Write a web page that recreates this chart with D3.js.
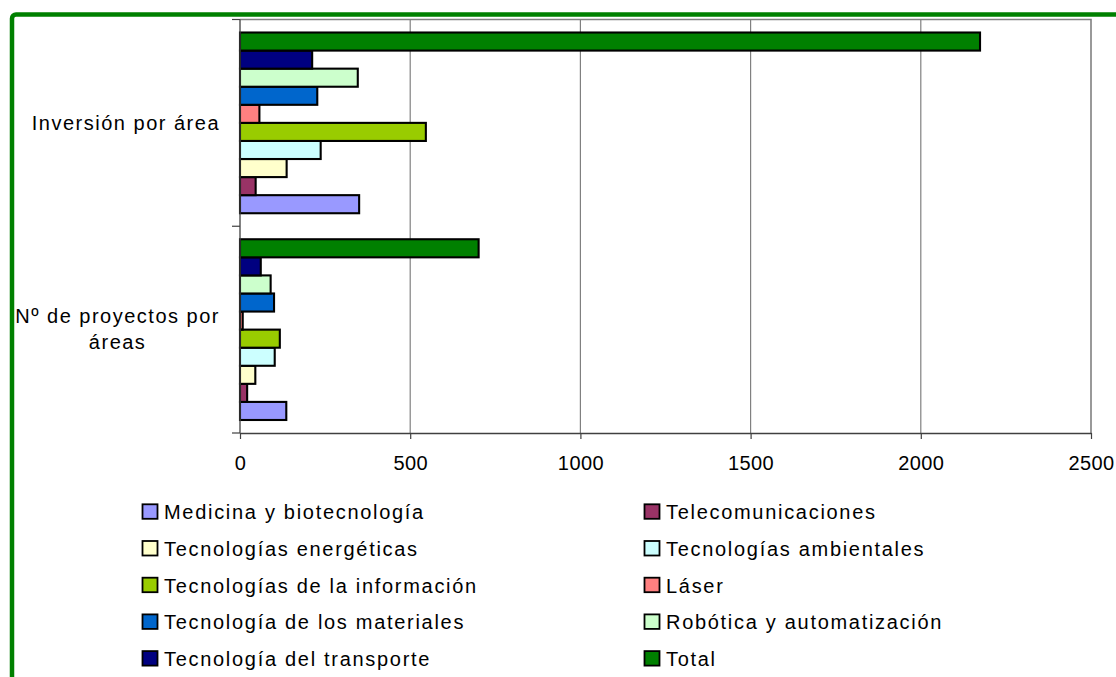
<!DOCTYPE html>
<html>
<head>
<meta charset="utf-8">
<script src="https://cdn.jsdelivr.net/npm/d3@7/dist/d3.min.js"></script>
<style>
  html, body { margin: 0; padding: 0; background: #fff; }
  svg { display: block; }
  text { font-family: "Liberation Sans", Arial, sans-serif; fill: #000; }
</style>
</head>
<body>
<svg id="chart" width="1116" height="677"></svg>
<script>
// Categories (y axis groups)
const categories = ["Inversión por área", "Nº de proyectos por áreas"];

// Series names, in legend order
const seriesNames = [
  "Medicina y biotecnología",
  "Telecomunicaciones",
  "Tecnologías energéticas",
  "Tecnologías ambientales",
  "Tecnologías de la información",
  "Láser",
  "Tecnología de los materiales",
  "Robótica y automatización",
  "Tecnología del transporte",
  "Total"
];

const seriesColors = [
  "#9999FF", "#993366", "#FFFFCC", "#CCFFFF", "#99CC00",
  "#FF8080", "#0066CC", "#CCFFCC", "#000080", "#008000"
];

// Values per series: [Inversión por área, Nº de proyectos por áreas]
const medicina     = [350, 136];
const telecom      = [46, 21];
const energeticas  = [137, 45];
const ambientales  = [237, 102];
const informacion  = [546, 117];
const laser        = [57, 8];
const materiales   = [227, 100];
const robotica     = [346, 90];
const transporte   = [212, 61];
const total        = [2174, 701];

const seriesValues = [medicina, telecom, energeticas, ambientales, informacion,
                      laser, materiales, robotica, transporte, total];

const xTicks = [0, 500, 1000, 1500, 2000, 2500];

const svg = d3.select("#chart");

// Outer frame
svg.append("rect")
  .attr("x", 12).attr("y", 14.5)
  .attr("width", 1300).attr("height", 900)
  .attr("rx", 4)
  .attr("fill", "none")
  .attr("stroke", "#008000")
  .attr("stroke-width", 4.5);

const plot = { left: 240, right: 1091, top: 19.5, bottom: 433 };

const x = d3.scaleLinear().domain([0, 2500]).range([plot.left, plot.right]);
const y0 = d3.scaleBand().domain(categories).range([plot.top, plot.bottom]).padding(0);
// Series drawn bottom-up in legend order (first series at the bottom of each group)
const y1 = d3.scaleBand()
  .domain(seriesNames.slice().reverse())
  .range([0, y0.bandwidth()])
  .paddingInner(0)
  .paddingOuter(0.72);

// Vertical gridlines
svg.append("g")
  .selectAll("line")
  .data(xTicks.filter(t => t > 0 && t < 2500))
  .join("line")
  .attr("x1", d => x(d)).attr("x2", d => x(d))
  .attr("y1", plot.top).attr("y2", plot.bottom)
  .attr("stroke", "#808080").attr("stroke-width", 1.2);

// Plot frame (top and right)
svg.append("path")
  .attr("d", `M${plot.left},${plot.top}H${plot.right}V${plot.bottom}`)
  .attr("fill", "none")
  .attr("stroke", "#808080")
  .attr("stroke-width", 1.6);

// Bars
const rows = [];
categories.forEach((c, ci) => {
  seriesNames.forEach((s, si) => {
    rows.push({ cat: c, series: s, value: seriesValues[si][ci], color: seriesColors[si] });
  });
});

svg.append("g")
  .selectAll("rect")
  .data(rows)
  .join("rect")
  .attr("x", x(0))
  .attr("y", d => y0(d.cat) + y1(d.series))
  .attr("width", d => x(d.value) - x(0))
  .attr("height", y1.bandwidth())
  .attr("fill", d => d.color)
  .attr("stroke", "#000")
  .attr("stroke-width", 2.1);

// Bottom axis
const xAxis = svg.append("g")
  .attr("transform", `translate(0,${plot.bottom})`)
  .call(d3.axisBottom(x).tickValues(xTicks).tickFormat(d3.format("d"))
    .tickSize(6).tickSizeOuter(0).tickPadding(17));
xAxis.select(".domain").attr("stroke", "#404040").attr("stroke-width", 1.3);
xAxis.selectAll(".tick line").attr("stroke", "#404040").attr("stroke-width", 1.2);
xAxis.selectAll(".tick text")
  .attr("font-size", 20)
  .attr("letter-spacing", 0.4)
  .attr("font-family", "'Liberation Sans', Arial, sans-serif")
  .attr("fill", "#000")
  .attr("dy", "0.71em");

// Left axis line and category boundary ticks
const boundaries = categories.map(c => y0(c)).concat([plot.bottom]);
svg.append("line")
  .attr("x1", plot.left).attr("x2", plot.left)
  .attr("y1", plot.top).attr("y2", plot.bottom)
  .attr("stroke", "#404040").attr("stroke-width", 1.3);
svg.append("g")
  .selectAll("line")
  .data(boundaries)
  .join("line")
  .attr("x1", plot.left - 8).attr("x2", plot.left)
  .attr("y1", d => d).attr("y2", d => d)
  .attr("stroke", "#404040").attr("stroke-width", 1.2);

// Category labels: wrapped, block right-aligned, lines centred within block
const maxLabelWidth = 215;
const lineGap = 26;
categories.forEach(c => {
  const words = c.split(" ");
  const probe = svg.append("text").attr("font-size", 20).attr("letter-spacing", 1.5);
  const lines = [];
  let cur = [];
  words.forEach(w => {
    const test = cur.concat([w]).join(" ");
    probe.text(test);
    if (probe.node().getComputedTextLength() > maxLabelWidth && cur.length) {
      lines.push(cur.join(" "));
      cur = [w];
    } else {
      cur.push(w);
    }
  });
  lines.push(cur.join(" "));
  const widths = lines.map(l => { probe.text(l); return probe.node().getComputedTextLength(); });
  probe.remove();
  const blockW = d3.max(widths);
  const cx = 220 - blockW / 2;
  const cy = y0(c) + y0.bandwidth() / 2;
  lines.forEach((l, i) => {
    svg.append("text")
      .attr("x", cx)
      .attr("y", cy + 6.8 + (i - (lines.length - 1) / 2) * lineGap)
      .attr("text-anchor", "middle")
      .attr("font-size", 20)
      .attr("letter-spacing", 1.5)
      .text(l);
  });
});

// Legend: two columns, filled row by row
const legendCols = [142.5, 644.5];
const legendRowY = d3.scaleLinear().domain([0, 1]).range([504.3, 541]);
const legend = svg.append("g");
seriesNames.forEach((s, i) => {
  const col = i % 2, row = Math.floor(i / 2);
  const gx = legendCols[col], gy = legendRowY(row);
  legend.append("rect")
    .attr("x", gx).attr("y", gy)
    .attr("width", 15).attr("height", 14.5)
    .attr("fill", seriesColors[i])
    .attr("stroke", "#000")
    .attr("stroke-width", 1.8);
  legend.append("text")
    .attr("x", gx + 21.5)
    .attr("y", gy + 15)
    .attr("font-size", 20)
    .attr("letter-spacing", 1.7)
    .text(s);
});
</script>
</body>
</html>
